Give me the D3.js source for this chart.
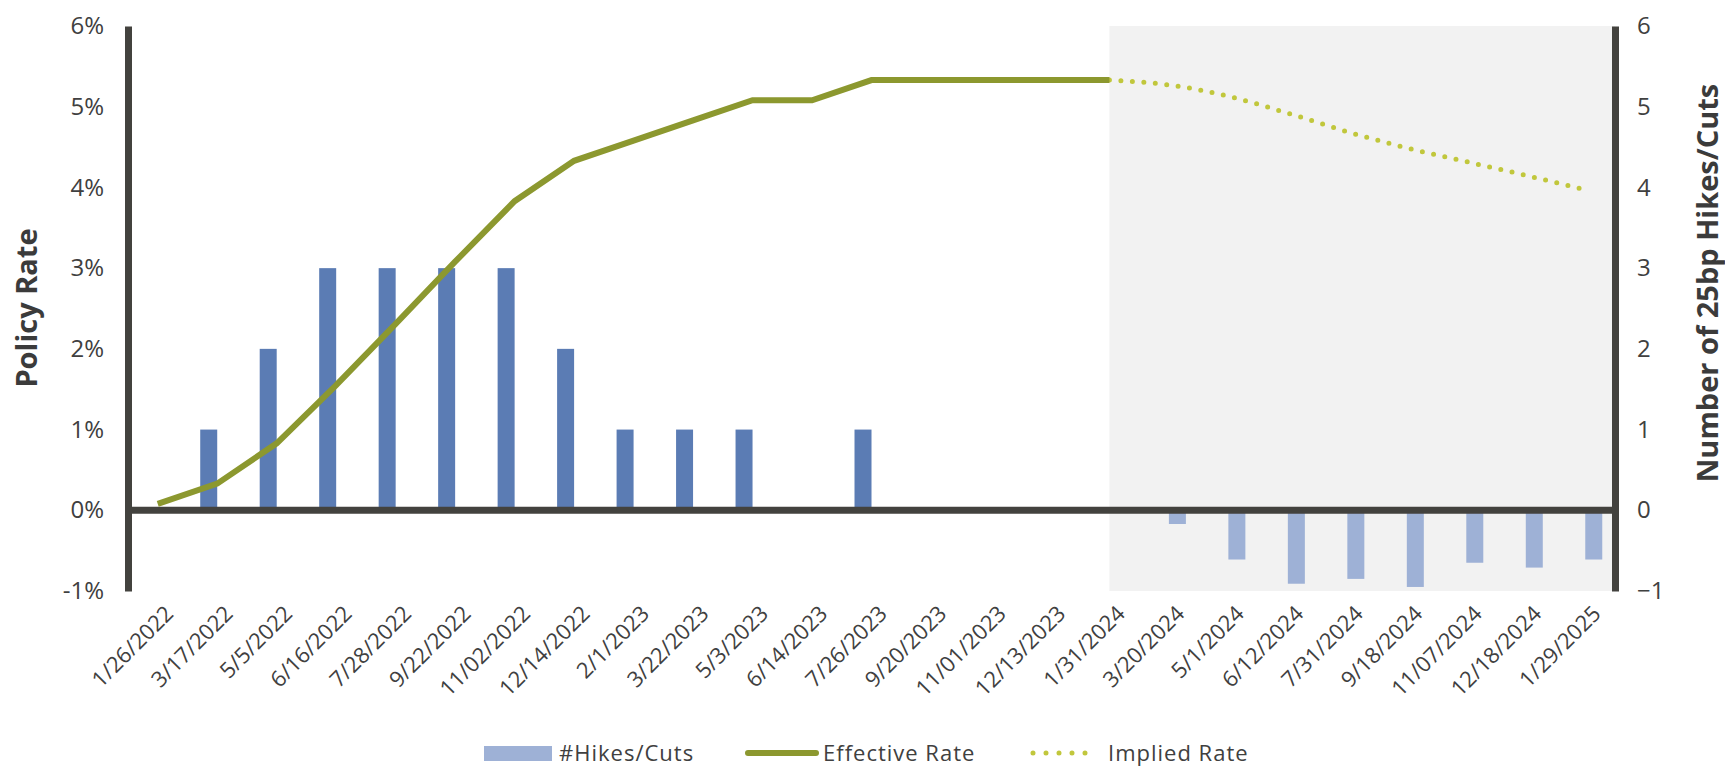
<!DOCTYPE html>
<html>
<head>
<meta charset="utf-8">
<script src="https://cdn.jsdelivr.net/npm/d3@7"></script>
<style>
  body { margin: 0; background: #fff; }
  svg text { font-family: "Open Sans", Lato, sans-serif; fill: #404040; }
  .tick text { font-size: 24px; font-weight: 400; }
  .xaxis .tick text { font-size: 22px; }
  .title { font-size: 29px; font-weight: 700; fill: #3b3b3b; }
  .legend text { font-size: 22px; font-weight: 400; letter-spacing: 1px; }
</style>
</head>
<body>
<script>
// meeting dates
const dates = ["1/26/2022","3/17/2022","5/5/2022","6/16/2022","7/28/2022","9/22/2022","11/02/2022",
  "12/14/2022","2/1/2023","3/22/2023","5/3/2023","6/14/2023","7/26/2023","9/20/2023","11/01/2023",
  "12/13/2023","1/31/2024","3/20/2024","5/1/2024","6/12/2024","7/31/2024","9/18/2024","11/07/2024",
  "12/18/2024","1/29/2025"];

// number of 25bp hikes (history) and implied cuts (futures)
const hikes = [0,1,2,3,3,3,3,2,1,1,1,0,1,0,0,0,0,null,null,null,null,null,null,null,null];
const cuts  = [null,null,null,null,null,null,null,null,null,null,null,null,null,null,null,null,null,
  -0.17,-0.61,-0.91,-0.85,-0.95,-0.65,-0.71,-0.61];

// policy rate, %
const effective = [0.08,0.33,0.83,1.55,2.31,3.08,3.83,4.33,4.58,4.83,5.08,5.08,5.33,5.33,5.33,5.33,5.33,
  null,null,null,null,null,null,null,null];
const implied = [null,null,null,null,null,null,null,null,null,null,null,null,null,null,null,null,
  5.33,5.27,5.13,4.92,4.69,4.49,4.32,4.15,3.97];

const leftTicks = [-1,0,1,2,3,4,5,6];
const rightTicks = [-1,0,1,2,3,4,5,6];

const w = 1725, h = 768;
const plotL = 128, plotR = 1615, plotT = 26, plotB = 591;

const svg = d3.select("body").append("svg")
  .attr("width", w)
  .attr("height", h);

const x = d3.scaleBand().domain(dates).range([plotL, plotR]).padding(0);
const xSub = d3.scaleBand().domain(["hikes","cuts"]).range([0, x.bandwidth()])
  .paddingInner(0).paddingOuter(0.75);
const y = d3.scaleLinear().domain([-1, 6]).range([plotB, plotT]);
const y2 = d3.scaleLinear().domain([-1, 6]).range([plotB, plotT]);

// shaded forecast area
const shadeStart = x("1/31/2024") + x.bandwidth() / 2;
svg.append("rect")
  .attr("x", shadeStart)
  .attr("y", plotT)
  .attr("width", plotR - shadeStart)
  .attr("height", plotB - plotT)
  .attr("fill", "#f2f2f2");

// bars
svg.selectAll("rect.hike")
  .data(dates.map((d, i) => ({d, v: hikes[i]})).filter(o => o.v))
  .enter().append("rect")
  .attr("class", "hike")
  .attr("x", o => x(o.d) + xSub("hikes"))
  .attr("width", xSub.bandwidth())
  .attr("y", o => y2(o.v))
  .attr("height", o => y2(0) - y2(o.v))
  .attr("fill", "#5b7cb4");

svg.selectAll("rect.cut")
  .data(dates.map((d, i) => ({d, v: cuts[i]})).filter(o => o.v))
  .enter().append("rect")
  .attr("class", "cut")
  .attr("x", o => x(o.d) + xSub("cuts"))
  .attr("width", xSub.bandwidth())
  .attr("y", y2(0))
  .attr("height", o => y2(o.v) - y2(0))
  .attr("fill", "#9eb1d6");

// zero line
svg.append("line")
  .attr("x1", plotL).attr("x2", plotR)
  .attr("y1", y(0)).attr("y2", y(0))
  .attr("stroke", "#43423e")
  .attr("stroke-width", 7);

// axes
const yAxis = d3.axisLeft(y).tickValues(leftTicks).tickSize(0).tickPadding(24).tickFormat(d => d + "%");
const gy = svg.append("g").attr("transform", "translate(" + plotL + ",0)").call(yAxis);
gy.select(".domain").attr("stroke", "#43423e").attr("stroke-width", 7);

const yAxis2 = d3.axisRight(y2).tickValues(rightTicks).tickSize(0).tickPadding(22).tickFormat(d3.format("d"));
const gy2 = svg.append("g").attr("transform", "translate(" + plotR + ",0)").call(yAxis2);
gy2.select(".domain").attr("stroke", "#43423e").attr("stroke-width", 7);

const xAxis = d3.axisBottom(x).tickSize(0);
const gx = svg.append("g").attr("class", "xaxis").attr("transform", "translate(0," + (plotB + 14) + ")").call(xAxis);
gx.select(".domain").remove();
gx.selectAll(".tick text")
  .attr("x", 0).attr("y", 0).attr("dy", 0)
  .attr("text-anchor", "end")
  .attr("transform", "translate(17,10) rotate(-45)");

// lines
const line = d3.line()
  .defined(v => v != null)
  .x((v, i) => x(dates[i]) + x.bandwidth() / 2)
  .y(v => y(v));

svg.append("path")
  .datum(implied)
  .attr("d", line.curve(d3.curveMonotoneX))
  .attr("fill", "none")
  .attr("stroke", "#c1c73c")
  .attr("stroke-width", 5)
  .attr("stroke-linecap", "round")
  .attr("stroke-dasharray", "0 11.5");

svg.append("path")
  .datum(effective)
  .attr("d", line.curve(d3.curveLinear))
  .attr("fill", "none")
  .attr("stroke", "#8c982f")
  .attr("stroke-width", 6);

// axis titles
svg.append("text")
  .attr("class", "title")
  .attr("text-anchor", "middle")
  .attr("transform", "translate(37,308) rotate(-90)")
  .text("Policy Rate");

svg.append("text")
  .attr("class", "title")
  .attr("text-anchor", "middle")
  .attr("transform", "translate(1718,283) rotate(-90)")
  .text("Number of 25bp Hikes/Cuts");

// legend
const legend = svg.append("g").attr("class", "legend");
legend.append("rect")
  .attr("x", 484).attr("y", 746).attr("width", 68).attr("height", 15)
  .attr("fill", "#9eb1d6");
legend.append("text").attr("x", 559).attr("y", 761).text("#Hikes/Cuts");

legend.append("line")
  .attr("x1", 748).attr("x2", 816).attr("y1", 753).attr("y2", 753)
  .attr("stroke", "#8c982f").attr("stroke-width", 6).attr("stroke-linecap", "round");
legend.append("text").attr("x", 823).attr("y", 761).text("Effective Rate");

legend.append("line")
  .attr("x1", 1033).attr("x2", 1098).attr("y1", 753).attr("y2", 753)
  .attr("stroke", "#c1c73c").attr("stroke-width", 5).attr("stroke-linecap", "round")
  .attr("stroke-dasharray", "0 13");
legend.append("text").attr("x", 1108).attr("y", 761).text("Implied Rate");
</script>
</body>
</html>
